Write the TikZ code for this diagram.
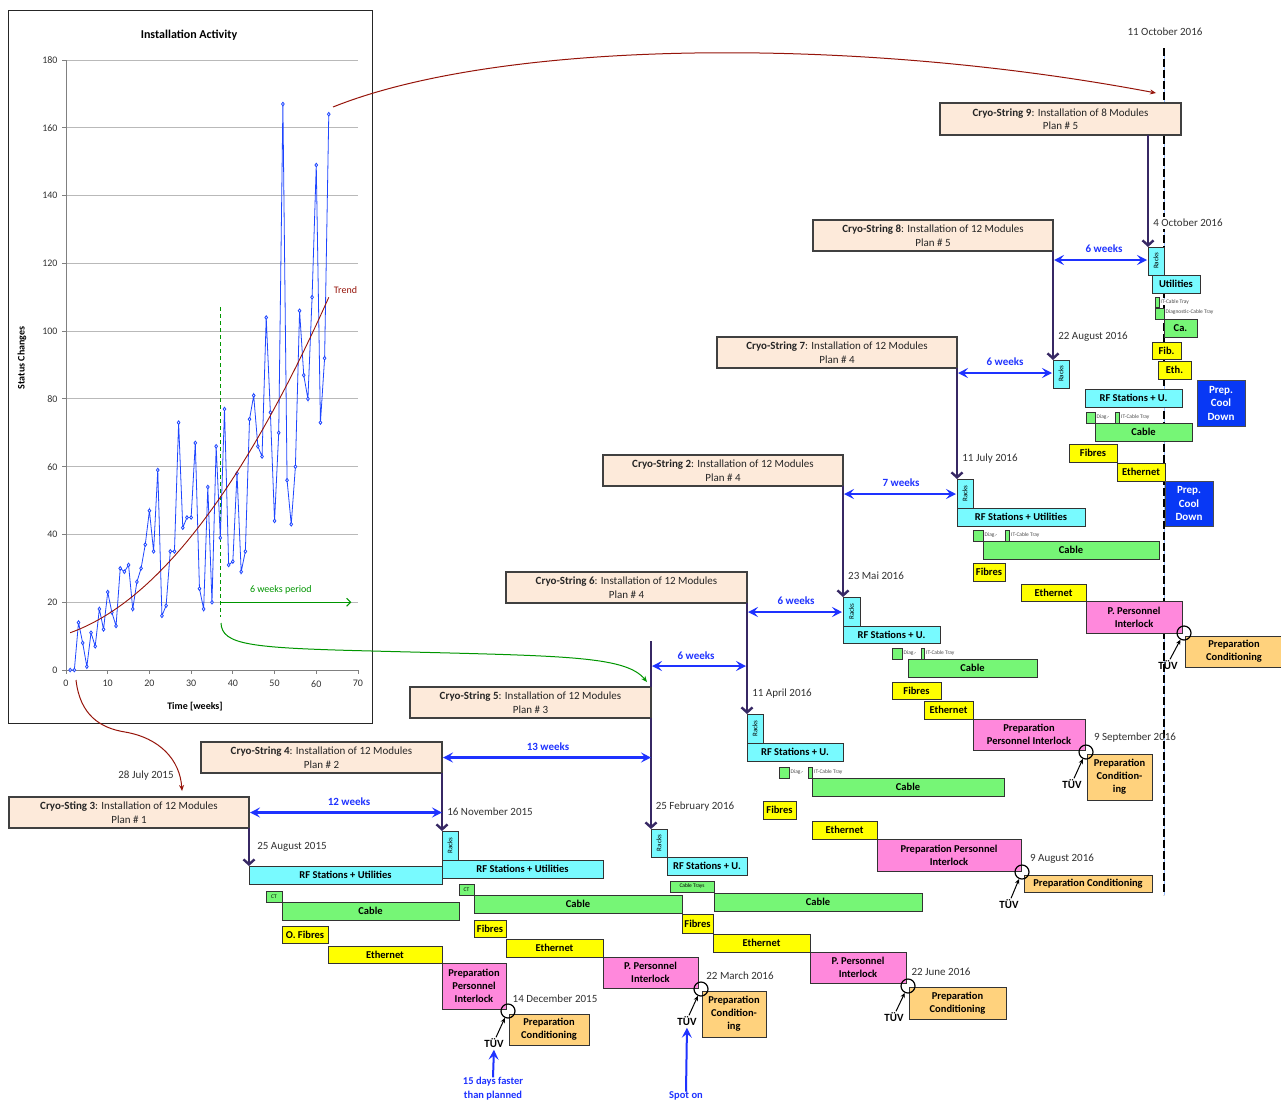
\documentclass[tikz,border=0pt]{standalone}
\usepackage{fontspec}
\setmainfont{Carlito}
\usetikzlibrary{arrows.meta,plotmarks,calc}
\definecolor{peach}{RGB}{253,234,218}
\definecolor{cyanb}{RGB}{120,250,255}
\definecolor{greenb}{RGB}{118,246,118}
\definecolor{yellowb}{RGB}{255,255,0}
\definecolor{pinkb}{RGB}{255,136,220}
\definecolor{orangeb}{RGB}{255,210,125}
\definecolor{coolb}{RGB}{8,56,245}
\definecolor{arrblue}{RGB}{30,50,255}
\definecolor{purp}{RGB}{55,40,100}
\definecolor{dred}{RGB}{150,20,10}
\definecolor{dgreen}{RGB}{0,150,0}
\definecolor{datablue}{RGB}{30,70,255}
\definecolor{txtgrey}{RGB}{50,50,50}
\definecolor{gridgrey}{RGB}{185,185,185}
\definecolor{lineblue}{RGB}{150,190,255}
\newcommand\mybox[7]{%
 \pgfmathsetmacro\bxcx{(#2+#4)/2}%
 \pgfmathsetmacro\bxcy{(#3+#5)/2}%
 \pgfmathsetmacro\bxw{#4-#2}%
 \pgfmathsetmacro\bxh{#5-#3}%
 \node[#6, minimum width=\bxw pt, minimum height=\bxh pt] (#1) at (\bxcx,\bxcy) {#7};}
\tikzset{
 base/.style={draw=black!80, line width=0.9pt, inner sep=0pt, outer sep=0pt, align=center, font=\fontsize{10.5}{13}\selectfont\bfseries, text=black},
 cryo/.style={base, fill=peach, font=\fontsize{11}{13.5}\selectfont, text=black!85, draw=black!75, line width=1.1pt},
 cy/.style={base, fill=cyanb},
 gr/.style={base, fill=greenb},
 ye/.style={base, fill=yellowb},
 pk/.style={base, fill=pinkb},
 orb/.style={base, fill=orangeb},
 cool/.style={base, fill=coolb, text=white, draw=black!70, font=\fontsize{11}{13.5}\selectfont\bfseries},
 rk/.style={base, fill=cyanb, font=\fontsize{7}{7}\selectfont},
 tinyb/.style={font=\fontsize{5.5}{6}\selectfont},
 tinylab/.style={font=\fontsize{5.5}{6}\selectfont, text=black!70, fill=white, inner sep=0.5pt, anchor=west},
 datelab/.style={font=\fontsize{11}{13}\selectfont, text=txtgrey, inner sep=0pt},
 weeklab/.style={font=\fontsize{11}{13}\selectfont\bfseries, text=arrblue, inner sep=0pt},
 purparr/.style={draw=purp, line width=2.4pt, -{Straight Barb[length=5pt,width=11pt]}},
 bluedarr/.style={draw=arrblue, line width=2.2pt, {Stealth[length=10pt,width=10pt,inset=4pt]}-{Stealth[length=10pt,width=10pt,inset=4pt]}},
 bluearr/.style={draw=arrblue, line width=2pt, -{Stealth[length=10pt,width=10pt,inset=4pt]}},
 tuvc/.style={circle, draw=black, line width=1.2pt, minimum size=14pt, inner sep=0pt},
 tuvlab/.style={font=\fontsize{11}{13}\selectfont\bfseries, inner sep=0pt},
 tuvarr/.style={draw=black, line width=1pt, -{Stealth[length=5pt,width=4.5pt]}},
 notelab/.style={font=\fontsize{10.5}{14}\selectfont\bfseries, text=arrblue, inner sep=0pt, align=center},
 chartlab/.style={font=\fontsize{10}{11}\selectfont, text=black!80, inner sep=0pt},
}
\begin{document}
\begin{tikzpicture}[x=1pt,y=-1pt]
\fill[white] (0,0) rectangle (1281,1101);
\useasboundingbox (0,0) rectangle (1281,1101);

% ---------------- chart ----------------
\draw[black!85, line width=1pt] (8,10) rectangle (372,723);
\node[font=\fontsize{12}{13}\selectfont\bfseries, inner sep=0pt] (ctitle) at (189,35) {Installation Activity};
\node[font=\fontsize{10}{11}\selectfont\bfseries, inner sep=0pt] (xlab) at (195,707) {Time [weeks]};
\node[font=\fontsize{10}{11}\selectfont\bfseries, inner sep=0pt, rotate=90] (ylab) at (22,358) {Status Changes};
\begin{scope}[shift={(66,670)}, x=4.171pt, y=3.389pt]
 \foreach \v in {20,40,...,180} \draw[gridgrey, line width=0.9pt] (0,\v) -- (70,\v);
 \draw[black!50, line width=0.9pt] (0,0) -- (0,180);
 \draw[black!50, line width=0.9pt] (0,0) -- (70,0);
 \foreach \v in {0,20,...,180} {
   \draw[black!50, line width=0.8pt] (0,\v) -- (-1,\v);
   \node[chartlab, anchor=east] (yl\v) at (-2,\v) {\v};}
 \foreach \t in {0,10,...,70} {
   \draw[black!50, line width=0.8pt] (\t,0) -- (\t,-1.2);
   \node[chartlab, anchor=north] (xl\t) at (\t,-3) {\t};}
 \draw[dgreen, line width=1pt, dash pattern=on 4pt off 3pt] (37,107) -- (37,15.5);
 \draw[dgreen, line width=1pt, -{Straight Barb[length=4pt,width=8pt]}] (37,20) -- (68.4,20);
 \node[chartlab, text=dgreen] (wp) at (51.5,23.6) {6 weeks period};
 \draw[datablue, line width=0.8pt] plot[mark=diamond*, mark size=1.8pt, mark options={fill=white, draw=datablue, line width=0.8pt}] coordinates {(1,0)(2,0)(3,14)(4,8)(5,1)(6,11)(7,7)(8,18)(9,12)(10,23)(11,17)(12,13)(13,30)(14,29)(15,31)(16,18)(17,26)(18,30)(19,37)(20,47)(21,35)(22,59)(23,16)(24,19)(25,35)(26,35)(27,73)(28,42)(29,45)(30,45)(31,67)(32,24)(33,18)(34,54)(35,20)(36,66)(37,39)(38,77)(39,31)(40,32)(41,58)(42,29)(43,35)(44,74)(45,81)(46,66)(47,63)(48,104)(49,76)(50,44)(51,70)(52,167)(53,56)(54,43)(55,60)(56,106)(57,87)(58,80)(59,110)(60,149)(61,73)(62,92)(63,164)};
 \draw[dred, line width=0.9pt] plot[domain=1:63, samples=60, smooth] (\x,{10.58+0.401*\x+0.01868*\x*\x});
 \node[chartlab, text=dred] (trend) at (67,112) {Trend};
\end{scope}

% ---------------- 11 October line ----------------
\coordinate (oct0) at (1164,48);
\coordinate (oct1) at (1164,895);
\draw[lineblue, line width=0.8pt] (oct0) -- (oct1);
\draw[black, line width=1.1pt, dash pattern=on 8pt off 3pt] (oct0) -- (oct1);
\node[datelab] (doct) at (1165,32) {11 October 2016};

% ---------------- String 3 ----------------
\mybox{cs3}{9}{797}{249}{828}{cryo}{\textbf{Cryo-Sting 3}: Installation of 12 Modules\\Plan \# 1}
\mybox{rf3}{249}{866}{442}{884}{cy}{RF Stations + Utilities}
\mybox{ct3}{266}{891}{282}{902}{gr,tinyb}{CT}
\mybox{cab3}{282}{902}{459}{920}{gr}{Cable}
\mybox{fib3}{282}{926}{328}{943}{ye}{O. Fibres}
\mybox{eth3}{328}{946}{442}{963}{ye}{Ethernet}
\mybox{ppi3}{442}{963}{506}{1009}{pk}{Preparation\\Personnel\\Interlock}
\mybox{pc3}{509}{1014}{589}{1045}{orb}{Preparation\\Conditioning}
\node[tuvc] (c3) at (508,1011) {};
\node[tuvlab] (tuv3) at (494,1043) {TÜV};
\node[notelab] (note3) at (493,1089) {15 days faster\\than planned};

% ---------------- String 4 ----------------
\mybox{cs4}{201}{742}{442}{773}{cryo}{\textbf{Cryo-String 4}: Installation of 12 Modules\\Plan \# 2}
\mybox{racks4}{442}{831}{458}{860}{rk}{\rotatebox{90}{Racks}}
\mybox{rf4}{442}{860}{603}{878}{cy}{RF Stations + Utilities}
\mybox{ct4}{459}{884}{474}{895}{gr,tinyb}{CT}
\mybox{cab4}{474}{895}{682}{913}{gr}{Cable}
\mybox{fib4}{474}{920}{506}{937}{ye}{Fibres}
\mybox{eth4}{506}{939}{603}{957}{ye}{Ethernet}
\mybox{ppi4}{603}{957}{698}{988}{pk}{P. Personnel\\Interlock}
\mybox{pc4}{702}{991}{766}{1037}{orb}{Preparation\\Condition-\\ing}
\node[tuvc] (c4) at (701,989) {};
\node[tuvlab] (tuv4) at (687,1021) {TÜV};
\node[notelab] (note4) at (686,1096) {Spot on};

% ---------------- String 5 ----------------
\mybox{cs5}{410}{687}{651}{718}{cryo}{\textbf{Cryo-String 5}: Installation of 12 Modules\\Plan \# 3}
\mybox{racks5}{651}{829}{667}{857}{rk}{\rotatebox{90}{Racks}}
\mybox{rf5}{667}{857}{747}{875}{cy}{RF Stations + U.}
\mybox{ctr5}{670}{881}{714}{892}{gr,tinyb}{Cable Trays}
\mybox{cab5}{714}{893}{922}{911}{gr}{Cable}
\mybox{fib5}{682}{914}{713}{933}{ye}{Fibres}
\mybox{eth5}{713}{934}{810}{952}{ye}{Ethernet}
\mybox{ppi5}{810}{952}{906}{983}{pk}{P. Personnel\\Interlock}
\mybox{pc5}{909}{987}{1006}{1019}{orb}{Preparation\\Conditioning}
\node[tuvc] (c5) at (908,986) {};
\node[tuvlab] (tuv5) at (894,1017) {TÜV};

% ---------------- String 6 ----------------
\mybox{cs6}{506}{572}{747}{603}{cryo}{\textbf{Cryo-String 6}: Installation of 12 Modules\\Plan \# 4}
\mybox{racks6}{747}{714}{763}{743}{rk}{\rotatebox{90}{Racks}}
\mybox{rf6}{747}{743}{843}{761}{cy}{RF Stations + U.}
\mybox{dg6}{779}{767}{789}{778}{gr}{}
\mybox{it6}{808}{767}{812}{778}{gr}{}
\node[tinylab] (dgl6) at ([xshift=1pt]dg6.east) {Diag.-};
\node[tinylab] (itl6) at ([xshift=1.5pt]it6.east) {IT-Cable Tray};
\mybox{cab6}{812}{778}{1004}{796}{gr}{Cable}
\mybox{fib6}{763}{801}{796}{819}{ye}{Fibres}
\mybox{eth6}{812}{821}{877}{839}{ye}{Ethernet}
\mybox{ppi6}{877}{839}{1021}{871}{pk}{Preparation Personnel\\Interlock}
\mybox{pc6}{1024}{875}{1152}{892}{orb}{Preparation Conditioning}
\node[tuvc] (c6) at (1022,872) {};
\node[tuvlab] (tuv6) at (1009,904) {TÜV};

% ---------------- String 2 ----------------
\mybox{cs2}{603}{455}{843}{486}{cryo}{\textbf{Cryo-String 2}: Installation of 12 Modules\\Plan \# 4}
\mybox{racks2}{843}{597}{860}{626}{rk}{\rotatebox{90}{Racks}}
\mybox{rf2}{843}{626}{940}{643}{cy}{RF Stations + U.}
\mybox{dg2}{892}{648}{902}{659}{gr}{}
\mybox{it2}{921}{648}{924}{659}{gr}{}
\node[tinylab] (dgl2) at ([xshift=1pt]dg2.east) {Diag.-};
\node[tinylab] (itl2) at ([xshift=1.5pt]it2.east) {IT-Cable Tray};
\mybox{cab2}{908}{659}{1037}{677}{gr}{Cable}
\mybox{fib2}{892}{682}{941}{699}{ye}{Fibres}
\mybox{eth2}{924}{701}{973}{719}{ye}{Ethernet}
\mybox{ppi2}{973}{719}{1085}{750}{pk}{Preparation\\Personnel Interlock}
\mybox{pc2}{1087}{754}{1152}{800}{orb}{Preparation\\Condition-\\ing}
\node[tuvc] (c2) at (1086,752) {};
\node[tuvlab] (tuv2) at (1072,784) {TÜV};

% ---------------- String 7 ----------------
\mybox{cs7}{717}{337}{957}{368}{cryo}{\textbf{Cryo-String 7}: Installation of 12 Modules\\Plan \# 4}
\mybox{racks7}{957}{479}{973}{508}{rk}{\rotatebox{90}{Racks}}
\mybox{rf7}{957}{508}{1085}{526}{cy}{RF Stations + Utilities}
\mybox{dg7}{973}{530}{983}{541}{gr}{}
\mybox{it7}{1005}{530}{1009}{541}{gr}{}
\node[tinylab] (dgl7) at ([xshift=1pt]dg7.east) {Diag.-};
\node[tinylab] (itl7) at ([xshift=1.5pt]it7.east) {IT-Cable Tray};
\mybox{cab7}{983}{541}{1159}{559}{gr}{Cable}
\mybox{fib7}{973}{563}{1005}{581}{ye}{Fibres}
\mybox{eth7}{1021}{584}{1086}{601}{ye}{Ethernet}
\mybox{ppi7}{1086}{601}{1182}{633}{pk}{P. Personnel\\Interlock}
\mybox{pc7}{1185}{636}{1283}{667}{orb}{Preparation\\Conditioning}
\node[tuvc] (c7) at (1184,633) {};
\node[tuvlab] (tuv7) at (1168,665) {TÜV};

% ---------------- String 8 ----------------
\mybox{cs8}{813}{220}{1053}{251}{cryo}{\textbf{Cryo-String 8}: Installation of 12 Modules\\Plan \# 5}
\mybox{racks8}{1053}{360}{1069}{388}{rk}{\rotatebox{90}{Racks}}
\mybox{rf8}{1085}{389}{1182}{407}{cy}{RF Stations + U.}
\mybox{dg8}{1086}{412}{1095}{423}{gr}{}
\mybox{it8}{1115}{412}{1119}{423}{gr}{}
\node[tinylab] (dgl8) at ([xshift=1pt]dg8.east) {Diag.-};
\node[tinylab] (itl8) at ([xshift=1.5pt]it8.east) {IT-Cable Tray};
\mybox{cab8}{1095}{423}{1192}{441}{gr}{Cable}
\mybox{fib8}{1069}{444}{1117}{462}{ye}{Fibres}
\mybox{eth8}{1117}{463}{1165}{481}{ye}{Ethernet}
\mybox{cool8}{1165}{481}{1213}{526}{cool}{Prep.\\Cool\\Down}

% ---------------- String 9 ----------------
\mybox{cs9}{940}{103}{1181}{135}{cryo}{\textbf{Cryo-String 9}: Installation of 8 Modules\\Plan \# 5}
\mybox{racks9}{1148}{247}{1164}{275}{rk}{\rotatebox{90}{Racks}}
\mybox{ut9}{1152}{275}{1200}{293}{cy}{Utilities}
\mybox{it9}{1155}{297}{1159}{307}{gr}{}
\mybox{dg9}{1155}{308}{1164}{319}{gr}{}
\node[tinylab] (itl9) at ([xshift=1pt]it9.east) {IT-Cable Tray};
\node[tinylab] (dgl9) at ([xshift=1pt,yshift=1pt]dg9.east) {Diagnostic-Cable Tray};
\mybox{ca9}{1164}{319}{1197}{337}{gr}{Ca.}
\mybox{fib9}{1152}{342}{1181}{359}{ye}{Fib.}
\mybox{eth9}{1158}{361}{1191}{379}{ye}{Eth.}
\mybox{cool9}{1197}{380}{1245}{426}{cool}{Prep.\\Cool\\Down}

% ---------------- dates ----------------
\node[datelab] (d1) at (146,776) {28 July 2015};
\node[datelab] (d2) at (292,847) {25 August 2015};
\node[datelab] (d3) at (490,812) {16 November 2015};
\node[datelab] (d4) at (555,999) {14 December 2015};
\node[datelab] (d5) at (695,807) {25 February 2016};
\node[datelab] (d6) at (740,976) {22 March 2016};
\node[datelab] (d7) at (782,694) {11 April 2016};
\node[datelab] (d8) at (876,576) {23 Mai 2016};
\node[datelab] (d9) at (941,972) {22 June 2016};
\node[datelab] (d10) at (990,459) {11 July 2016};
\node[datelab] (d11) at (1062,859) {9 August 2016};
\node[datelab] (d12) at (1093,337) {22 August 2016};
\node[datelab] (d13) at (1135,738) {9 September 2016};
\node[datelab, fill=white, inner sep=2pt] (d14) at (1188,223) {4 October 2016};

% ---------------- purple arrows ----------------
\coordinate (top5) at (651,641);
\draw[purp, line width=1.6pt] (top5) -- (cs5.north east);
\draw[purparr] (cs3.south east) -- (rf3.north west);
\draw[purparr] (cs4.south east) -- (racks4.north west);
\draw[purparr] (cs5.south east) -- (racks5.north west);
\draw[purparr] (cs6.south east) -- (racks6.north west);
\draw[purparr] (cs2.south east) -- (racks2.north west);
\draw[purparr] (cs7.south east) -- (racks7.north west);
\draw[purparr] (cs8.south east) -- (racks8.north west);
\draw[purparr] (racks9.north west |- cs9.south) -- (racks9.north west);

% ---------------- week arrows ----------------
\coordinate (a56l) at (652,666); \coordinate (a56r) at (746,666);
\coordinate (a62l) at (748,612); \coordinate (a62r) at (842,612);
\coordinate (a27l) at (844,494); \coordinate (a27r) at (956,494);
\coordinate (a78l) at (958,373); \coordinate (a78r) at (1052,373);
\coordinate (a89l) at (1054,260); \coordinate (a89r) at (1147,260);
\draw[bluedarr] ([xshift=1pt]cs3.east) -- (cs3.east -| cs4.south east);
\draw[bluedarr] ([xshift=1pt]cs4.east) -- (cs4.east -| cs5.south east);
\draw[bluedarr] (a56l) -- (a56r);
\draw[bluedarr] (a62l) -- (a62r);
\draw[bluedarr] (a27l) -- (a27r);
\draw[bluedarr] (a78l) -- (a78r);
\draw[bluedarr] (a89l) -- (a89r);
\node[weeklab] (w1) at (349,802) {12 weeks};
\node[weeklab] (w2) at (548,747) {13 weeks};
\node[weeklab] (w3) at (696,656) {6 weeks};
\node[weeklab] (w4) at (796,601) {6 weeks};
\node[weeklab] (w5) at (901,483) {7 weeks};
\node[weeklab] (w6) at (1005,362) {6 weeks};
\node[weeklab] (w7) at (1104,249) {6 weeks};

% ---------------- TUV arrows ----------------
\foreach \s in {3,4,5,6,2,7} \draw[tuvarr] ([xshift=2pt,yshift=1pt]tuv\s.north) -- (c\s);
\draw[bluearr, shorten >=2pt] (note3.north) -- (tuv3.south);
\draw[bluearr, shorten >=2pt] (note4.north) -- (tuv4.south);

% ---------------- curved arrows ----------------
\coordinate (g0) at (221,623);
\coordinate (g1) at (647,682);
\draw[dgreen, line width=1pt, -{Stealth[length=6pt,width=5pt]}] (g0) .. controls (222,645) and (250,648) .. (372,651) .. controls (560,656) and (625,655) .. (g1);
\coordinate (r0) at (333,107);
\coordinate (r1) at (1156,93);
\draw[dred, line width=1pt, -{Stealth[length=6pt,width=5pt]}] (r0) .. controls (500,40) and (850,35) .. (r1);
\coordinate (r2) at (76,680);
\coordinate (r3) at (182,791);
\draw[dred, line width=1pt, -{Stealth[length=6pt,width=5pt]}] (r2) .. controls (80,715) and (100,728) .. (125,732) .. controls (160,738) and (180,760) .. (r3);
\end{tikzpicture}
\end{document}
